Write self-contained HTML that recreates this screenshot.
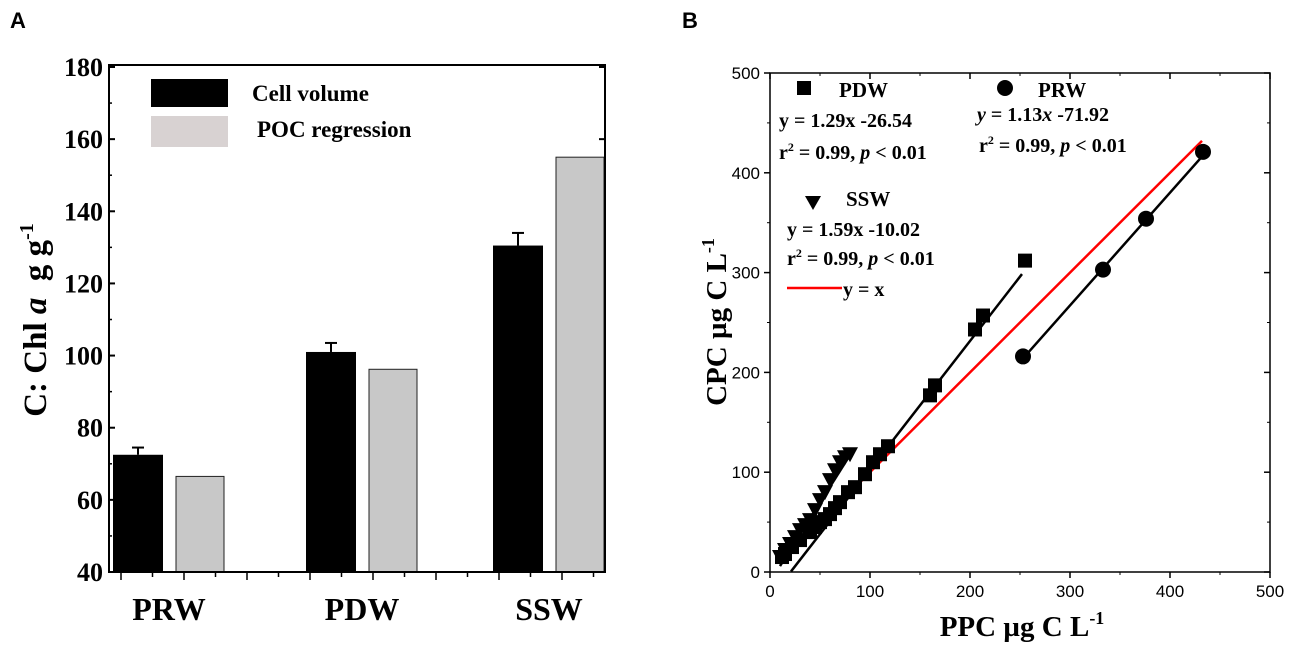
<!DOCTYPE html>
<html><head><meta charset="utf-8"><style>
body{margin:0;background:#fff;width:1299px;height:649px;overflow:hidden}
svg{display:block}
.serif{font-family:"Liberation Serif",serif;font-weight:bold}
.sans{font-family:"Liberation Sans",sans-serif}
</style></head><body>
<svg id="svg" width="1299" height="649" viewBox="0 0 1299 649">
<text x="10" y="28" class="sans" font-weight="bold" font-size="22">A</text>
<text x="682" y="28" class="sans" font-weight="bold" font-size="22">B</text>
<g id="A"></g>
<g id="B"></g>
</svg>
<script>
const NS="http://www.w3.org/2000/svg";
function mk(p,t,a,txt){const e=document.createElementNS(NS,t);for(const k in a)e.setAttribute(k,a[k]);if(txt!==undefined)e.textContent=txt;p.appendChild(e);return e;}
// ---------- Panel A data ----------
const catsA=["PRW","PDW","SSW"];
const cellVol=[72.5,101,130.5];
const cellErr=[2,2.5,3.5];
const pocReg=[66.5,96.2,155];
const yTicksA=[40,60,80,100,120,140,160,180];
// ---------- Panel B data ----------
const pdwX=[12,15,22,30,40,45,50,55,60,65,70,78,85,95,103,110,118,160,165,205,213,255];
const pdwY=[15,18,25,32,40,45,50,53,58,64,70,80,85,98,110,118,126,177,187,243,257,312];
const prwX=[253,333,376,433];
const prwY=[216,303,354,421];
const sswX=[10,15,20,25,30,35,40,45,50,55,60,65,70,75,80];
const sswY=[15,22,28,35,42,47,52,62,72,80,92,102,110,115,118];
const xTicksB=[0,100,200,300,400,500];
const yTicksB=[0,100,200,300,400,500];

const A=document.getElementById('A');
const ay=v=>572-(v-40)*(505/140);
const L=109,R=605,T=65,Bt=572;
yTicksA.forEach(v=>{
 let t=mk(A,'line',{x1:L,x2:L+6,y1:ay(v),y2:ay(v),stroke:'#000','stroke-width':2});
 
 mk(A,'line',{x1:R,x2:R-6,y1:ay(v),y2:ay(v),stroke:'#000','stroke-width':2});
 if(v<180)mk(A,'line',{x1:L,x2:L+3,y1:ay(v+10),y2:ay(v+10),stroke:'#000','stroke-width':1.5});
 let l=mk(A,'text',{x:L-6,y:ay(v)+9,'text-anchor':'end','font-size':26,class:'serif'},v);
 
});
for(let x=L+12;x<R;x+=31.5){mk(A,'line',{x1:x,x2:x,y1:Bt,y2:Bt+(Math.round((x-L-12)/31.5)%2?5:8),stroke:'#000','stroke-width':1.5});}
const blackX=[113,306,493],w=50;
catsA.forEach((c,i)=>{
 const bx=blackX[i];
 let e=mk(A,'line',{x1:bx+w/2,x2:bx+w/2,y1:ay(cellVol[i]),y2:ay(cellVol[i]+cellErr[i]),stroke:'#000','stroke-width':2});
 
 mk(A,'line',{x1:bx+w/2-6,x2:bx+w/2+6,y1:ay(cellVol[i]+cellErr[i]),y2:ay(cellVol[i]+cellErr[i]),stroke:'#000','stroke-width':2});
 let b=mk(A,'rect',{x:bx,y:ay(cellVol[i]),width:w,height:Bt-ay(cellVol[i]),fill:'#000'});
 
 let g=mk(A,'rect',{x:bx+63,y:ay(pocReg[i]),width:48,height:Bt-ay(pocReg[i]),fill:'#c8c8c8',stroke:'#222','stroke-width':1});
 
 let t=mk(A,'text',{x:bx+56,y:620,'text-anchor':'middle','font-size':32,class:'serif'},c);
 
});
mk(A,'rect',{x:L,y:T,width:R-L,height:Bt-T,fill:'none',stroke:'#000','stroke-width':2});
let lg1=mk(A,'rect',{x:151,y:79,width:77,height:28,fill:'#000'});

mk(A,'text',{x:252,y:101,'font-size':23,class:'serif'},'Cell volume');
let lg2=mk(A,'rect',{x:151,y:116,width:77,height:31,fill:'#d8d2d2'});

mk(A,'text',{x:257,y:137,'font-size':23,class:'serif'},'POC regression');
let yt=mk(A,'text',{transform:'translate(46,320) rotate(-90)','text-anchor':'middle','font-size':33,class:'serif'});

yt.innerHTML='C: Chl <tspan font-style="italic">a</tspan>&#160; g g<tspan dy="-13" font-size="20">-1</tspan>';

// ---------- Panel B ----------
const B=document.getElementById('B');
const bx=v=>770+v*1.0, by=v=>572-v*0.998;
const BL=770,BR=1270,BT=73,BB=572;
mk(B,'rect',{x:BL,y:BT,width:BR-BL,height:BB-BT,fill:'none',stroke:'#000','stroke-width':1.5});
xTicksB.forEach(v=>{
 mk(B,'line',{x1:bx(v),x2:bx(v),y1:BB,y2:BB+6,stroke:'#000','stroke-width':1.5});
 mk(B,'line',{x1:bx(v),x2:bx(v),y1:BT,y2:BT+6,stroke:'#000','stroke-width':1.5});
 if(v<500){mk(B,'line',{x1:bx(v+50),x2:bx(v+50),y1:BB,y2:BB+3,stroke:'#000'});mk(B,'line',{x1:bx(v+50),x2:bx(v+50),y1:BT,y2:BT+3,stroke:'#000'});}
 mk(B,'text',{x:bx(v),y:BB+25,'text-anchor':'middle','font-size':17,class:'sans'},v);
});
yTicksB.forEach(v=>{
 mk(B,'line',{x1:BL-6,x2:BL,y1:by(v),y2:by(v),stroke:'#000','stroke-width':1.5});
 mk(B,'line',{x1:BR-6,x2:BR,y1:by(v),y2:by(v),stroke:'#000','stroke-width':1.5});
 if(v<500){mk(B,'line',{x1:BL-3,x2:BL,y1:by(v+50),y2:by(v+50),stroke:'#000'});mk(B,'line',{x1:BR-3,x2:BR,y1:by(v+50),y2:by(v+50),stroke:'#000'});}
 mk(B,'text',{x:BL-10,y:by(v)+6,'text-anchor':'end','font-size':17,class:'sans'},v);
});
function line(x0,x1,f,col,name){let l=mk(B,'line',{x1:bx(x0),y1:by(f(x0)),x2:bx(x1),y2:by(f(x1)),stroke:col,'stroke-width':2.5});}
line(21,252,x=>1.29*x-26.54,'#000','fit-line-pdw');
line(253,433,x=>1.13*x-71.92,'#000','fit-line-prw');
line(10,82,x=>1.59*x-10.02,'#000','fit-line-ssw');
line(12,432,x=>x,'#ff0000','identity-line');
pdwX.forEach((x,i)=>{let r=mk(B,'rect',{x:bx(x)-7,y:by(pdwY[i])-7,width:14,height:14,fill:'#000'});});
prwX.forEach((x,i)=>{let c=mk(B,'circle',{cx:bx(x),cy:by(prwY[i]),r:8,fill:'#000'});});
sswX.forEach((x,i)=>{const X=bx(x),Y=by(sswY[i]);let p=mk(B,'polygon',{points:`${X-8},${Y-7} ${X+8},${Y-7} ${X},${Y+8}`,fill:'#000'});});
// annotations
mk(B,'rect',{x:797,y:81,width:14,height:14,fill:'#000'});
mk(B,'text',{x:839,y:97,'font-size':21,class:'serif'},'PDW');
mk(B,'text',{x:779,y:127,'font-size':20,class:'serif'},'y = 1.29x -26.54');
let r1=mk(B,'text',{x:779,y:159,'font-size':20,class:'serif'});
r1.innerHTML='r<tspan dy="-8" font-size="12">2</tspan><tspan dy="8"> = 0.99, </tspan><tspan font-style="italic">p</tspan> &lt; 0.01';
mk(B,'circle',{cx:1005,cy:88,r:8,fill:'#000'});
mk(B,'text',{x:1038,y:97,'font-size':21,class:'serif'},'PRW');
let e2=mk(B,'text',{x:977,y:121,'font-size':20,class:'serif'});
e2.innerHTML='<tspan font-style="italic">y</tspan> = 1.13<tspan font-style="italic">x</tspan> -71.92';
let r2=mk(B,'text',{x:979,y:152,'font-size':20,class:'serif'});
r2.innerHTML='r<tspan dy="-8" font-size="12">2</tspan><tspan dy="8"> = 0.99, </tspan><tspan font-style="italic">p</tspan> &lt; 0.01';
mk(B,'polygon',{points:'805,196 821,196 813,210',fill:'#000'});
mk(B,'text',{x:846,y:206,'font-size':21,class:'serif'},'SSW');
mk(B,'text',{x:787,y:236,'font-size':20,class:'serif'},'y = 1.59x -10.02');
let r3=mk(B,'text',{x:787,y:265,'font-size':20,class:'serif'});
r3.innerHTML='r<tspan dy="-8" font-size="12">2</tspan><tspan dy="8"> = 0.99, </tspan><tspan font-style="italic">p</tspan> &lt; 0.01';
mk(B,'line',{x1:787,x2:842,y1:288,y2:288,stroke:'#ff0000','stroke-width':2.5});
mk(B,'text',{x:843,y:296,'font-size':20,class:'serif'},'y = x');
let xtB=mk(B,'text',{x:1022,y:636,'text-anchor':'middle','font-size':29,class:'serif'});
xtB.innerHTML='PPC µg C L<tspan dy="-12" font-size="18">-1</tspan>';
let ytB=mk(B,'text',{transform:'translate(726,322) rotate(-90)','text-anchor':'middle','font-size':29,class:'serif'});
ytB.innerHTML='CPC µg C L<tspan dy="-12" font-size="18">-1</tspan>';
</script>
</body></html>
